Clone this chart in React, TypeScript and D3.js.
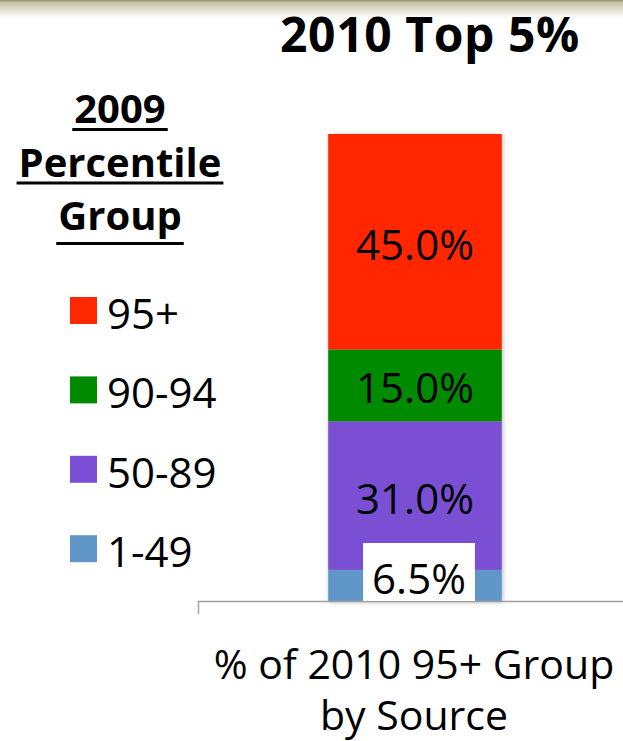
import React, { useEffect, useRef } from "react";
import * as d3 from "d3";

const categories = ["% of 2010 95+ Group by Source"];
const groups = ["1-49", "50-89", "90-94", "95+"];
const values = [6.5, 31.0, 15.0, 45.0];
const colors = ["#6196C8", "#7A4FD3", "#008A00", "#FF2700"];
const legendOrder = ["95+", "90-94", "50-89", "1-49"];
const titleText = "2010 Top 5%";
const legendTitle = ["2009", "Percentile", "Group"];
const axisLabelLines = ["% of 2010 95+ Group", "by Source"];

const W = 623;
const H = 741;
const FONT = "'Open Sans', 'DejaVu Sans', sans-serif";

export default function App() {
  const ref = useRef<SVGSVGElement>(null);

  useEffect(() => {
    const svg = d3.select(ref.current);
    svg.selectAll("*").remove();

    const defs = svg.append("defs");
    const grad = defs
      .append("linearGradient")
      .attr("id", "topgrad")
      .attr("x1", 0)
      .attr("y1", 0)
      .attr("x2", 0)
      .attr("y2", 1);
    grad.append("stop").attr("offset", "0%").attr("stop-color", "#bdb996");
    grad.append("stop").attr("offset", "100%").attr("stop-color", "#ffffff");
    const filt = defs
      .append("filter")
      .attr("id", "shadow")
      .attr("x", "-10%")
      .attr("y", "-10%")
      .attr("width", "120%")
      .attr("height", "120%");
    filt
      .append("feDropShadow")
      .attr("dx", 1)
      .attr("dy", 1)
      .attr("stdDeviation", 2.5)
      .attr("flood-color", "#000")
      .attr("flood-opacity", 0.28);

    svg.append("rect").attr("x", 0).attr("y", 0).attr("width", W).attr("height", H).attr("fill", "#fff");
    svg.append("rect").attr("x", 0).attr("y", 0).attr("width", W).attr("height", 18).attr("fill", "url(#topgrad)");
    svg.append("rect").attr("x", 0).attr("y", 0).attr("width", W).attr("height", 1.5).attr("fill", "#9c987a");

    // Title
    svg
      .append("text")
      .attr("x", 430)
      .attr("y", 52)
      .attr("text-anchor", "middle")
      .attr("font-family", FONT)
      .attr("font-weight", 700)
      .attr("font-size", 48)
      .attr("letter-spacing", 0.6)
      .attr("fill", "#000")
      .text(titleText);

    // Scales
    const x = d3
      .scaleBand<string>()
      .domain(categories)
      .range([198, 632])
      .paddingInner(0.6)
      .paddingOuter(0.3);
    const y = d3.scaleLinear().domain([0, 100]).range([601, 122]);

    const stackData = [
      Object.fromEntries([["cat", categories[0]], ...groups.map((g, i) => [g, values[i]])]),
    ];
    const series = d3.stack<any>().keys(groups)(stackData);

    const bars = svg.append("g").attr("filter", "url(#shadow)");
    series.forEach((s, i) => {
      s.forEach((d: any) => {
        bars
          .append("rect")
          .attr("x", x(d.data.cat)!)
          .attr("width", x.bandwidth())
          .attr("y", y(d[1]))
          .attr("height", y(d[0]) - y(d[1]))
          .attr("fill", colors[i]);
      });
    });

    // Axis
    svg
      .append("line")
      .attr("x1", 198)
      .attr("x2", W)
      .attr("y1", y(0) + 0.5)
      .attr("y2", y(0) + 0.5)
      .attr("stroke", "#a0a0a0")
      .attr("stroke-width", 1.5);
    svg
      .append("line")
      .attr("x1", 198.5)
      .attr("x2", 198.5)
      .attr("y1", y(0))
      .attr("y2", y(0) + 13)
      .attr("stroke", "#a0a0a0")
      .attr("stroke-width", 1.5);

    // Data labels
    const labels = svg.append("g");
    series.forEach((s, i) => {
      s.forEach((d: any) => {
        const cx = x(d.data.cat)! + x.bandwidth() / 2;
        const cy = (y(d[0]) + y(d[1])) / 2;
        const baseline = Math.min(cy + 18, y(0) - 7);
        const g = labels.append("g");
        const bg = g.append("rect").attr("fill", "#fff");
        const t = g
          .append("text")
          .attr("x", cx + (i === 0 ? 4 : 0))
          .attr("y", baseline)
          .attr("text-anchor", "middle")
          .attr("font-family", FONT)
          .attr("font-size", 42)
          .attr("fill", "#000")
          .text(d3.format(".1f")(values[i]) + "%");
        if (cy + 18 > y(0) - 7) {
          const bb = (t.node() as SVGTextElement).getBBox();
          bg.attr("x", bb.x - 9)
            .attr("width", bb.width + 18)
            .attr("y", baseline - 51)
            .attr("height", y(0) - (baseline - 51));
        } else {
          bg.remove();
        }
      });
    });

    // Category label
    const cxCat = x(categories[0])! + x.bandwidth() / 2 - 1;
    axisLabelLines.forEach((line, i) => {
      svg
        .append("text")
        .attr("x", cxCat)
        .attr("y", 679 + i * 51)
        .attr("text-anchor", "middle")
        .attr("font-family", FONT)
        .attr("font-size", 41)
        .attr("fill", "#000")
        .text(line);
    });

    // Legend title
    legendTitle.forEach((line, i) => {
      const t = svg
        .append("text")
        .attr("x", 120)
        .attr("y", 123 + i * 53.5)
        .attr("text-anchor", "middle")
        .attr("font-family", FONT)
        .attr("font-weight", 700)
        .attr("font-size", 40)
        .attr("fill", "#000")
        .text(line);
      const bb = (t.node() as SVGTextElement).getBBox();
      svg
        .append("rect")
        .attr("x", bb.x - 2)
        .attr("width", bb.width + 4)
        .attr("y", 123 + i * 53.5 + 5 + (i === 2 ? 7 : 0))
        .attr("height", 3)
        .attr("fill", "#000");
    });

    // Legend items
    legendOrder.forEach((g, i) => {
      const idx = groups.indexOf(g);
      const top = 297 + i * 79.4;
      svg
        .append("rect")
        .attr("x", 70)
        .attr("y", top)
        .attr("width", 27)
        .attr("height", 27)
        .attr("fill", colors[idx]);
      svg
        .append("text")
        .attr("x", 107)
        .attr("y", top + 32)
        .attr("font-family", FONT)
        .attr("font-size", 42)
        .attr("fill", "#000")
        .text(g);
    });
  }, []);

  return (
    <svg
      ref={ref}
      width={W}
      height={H}
      style={{ position: "absolute", left: 0, top: 0, display: "block" }}
    />
  );
}
